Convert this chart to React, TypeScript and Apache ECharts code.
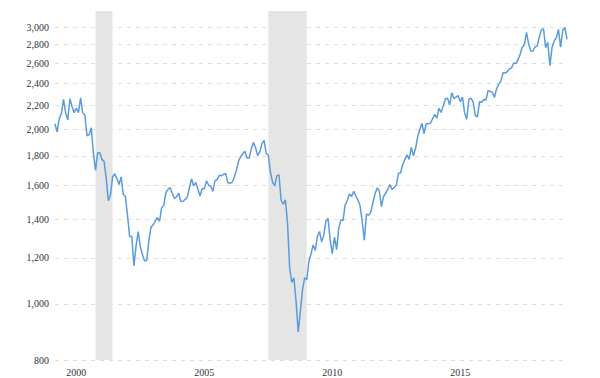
import React, { useEffect, useRef } from "react";
import * as echarts from "echarts";

// Monthly series starts at Aug 1999 (month-end values, inflation adjusted)
const startYear = 1999;
const startMonth = 8;

const realPrice: number[] = [
  // 1999 Aug-Dec
  2045, 1980, 2089, 2129, 2252,
  // 2000
  2131, 2076, 2258, 2188, 2137, 2177, 2136, 2266, 2134, 2119, 1949, 1958,
  // 2001
  2013, 1820, 1699, 1822, 1823, 1775, 1761, 1648, 1506, 1539, 1657, 1676,
  // 2002
  1646, 1606, 1656, 1545, 1531, 1420, 1306, 1308, 1162, 1260, 1332, 1255,
  // 2003
  1215, 1185, 1188, 1287, 1355, 1369, 1389, 1409, 1387, 1465, 1480, 1557,
  // 2004
  1576, 1586, 1550, 1520, 1529, 1552, 1501, 1503, 1514, 1527, 1586, 1643,
  // 2005
  1598, 1619, 1576, 1534, 1581, 1580, 1630, 1603, 1595, 1563, 1631, 1637,
  // 2006
  1666, 1663, 1672, 1678, 1618, 1615, 1619, 1650, 1699, 1762, 1793, 1813,
  // 2007
  1833, 1784, 1785, 1850, 1899, 1861, 1802, 1829, 1889, 1914, 1818, 1804,
  // 2008
  1685, 1622, 1598, 1664, 1668, 1509, 1486, 1511, 1375, 1154, 1089, 1109,
  // 2009
  1009, 894, 968, 1056, 1109, 1100, 1183, 1220, 1263, 1236, 1307, 1333,
  // 2010
  1279, 1315, 1387, 1404, 1288, 1220, 1304, 1240, 1348, 1396, 1392, 1480,
  // 2011
  1507, 1547, 1531, 1564, 1536, 1510, 1476, 1388, 1287, 1428, 1422, 1438,
  // 2012
  1494, 1547, 1584, 1567, 1471, 1531, 1553, 1575, 1606, 1575, 1587, 1603,
  // 2013
  1678, 1683, 1739, 1773, 1807, 1775, 1862, 1801, 1853, 1941, 1999, 2047,
  // 2014
  1966, 2043, 2044, 2050, 2086, 2122, 2090, 2173, 2138, 2193, 2258, 2262,
  // 2015
  2202, 2313, 2260, 2274, 2286, 2231, 2274, 2135, 2082, 2256, 2262, 2230,
  // 2016
  2113, 2102, 2232, 2227, 2252, 2247, 2331, 2326, 2317, 2270, 2350, 2393,
  // 2017
  2422, 2503, 2500, 2516, 2543, 2552, 2603, 2597, 2634, 2693, 2769, 2798,
  // 2018
  2939, 2812, 2730, 2727, 2774, 2783, 2883, 2969, 2979, 2767, 2826, 2575,
  // 2019 Jan-Aug
  2772, 2842, 2877, 2975, 2772, 2964, 2997, 2860,
];

const yTicks = [800, 1000, 1200, 1400, 1600, 1800, 2000, 2200, 2400, 2600, 2800, 3000];
const yMin = 800;
const yMax = 3200;
const labelYears = [2000, 2005, 2010, 2015];
const labelMonth = "06";
const recessions: [string, string][] = [
  ["2001-03", "2001-11"],
  ["2007-12", "2009-06"],
];

const months: string[] = realPrice.map((_, i) => {
  const m = startMonth - 1 + i;
  const y = startYear + Math.floor(m / 12);
  const mm = (m % 12) + 1;
  return `${y}-${String(mm).padStart(2, "0")}`;
});

const FONT = "Liberation Serif";

export default function App() {
  const ref = useRef<HTMLDivElement>(null);

  useEffect(() => {
    if (!ref.current) return;
    const chart = echarts.init(ref.current, undefined, { renderer: "svg" });
    chart.setOption({
      animation: false,
      textStyle: { fontFamily: FONT },
      grid: { left: 55, right: 33, top: 11, bottom: 18, containLabel: false },
      xAxis: {
        type: "category",
        data: months,
        boundaryGap: false,
        axisLine: { show: false },
        axisTick: { show: false },
        splitLine: { show: false },
        axisLabel: {
          interval: (_idx: number, val: string) =>
            val.endsWith("-" + labelMonth) && labelYears.includes(Number(val.slice(0, 4))),
          formatter: (val: string) => val.slice(0, 4),
          color: "#333",
          fontFamily: FONT,
          fontSize: 10,
          margin: 7,
        },
      },
      yAxis: {
        type: "log",
        logBase: 10,
        min: yMin,
        max: yMax,
        axisLine: { show: false },
        axisTick: { show: false, customValues: yTicks },
        axisLabel: {
          customValues: yTicks,
          formatter: (v: number) => Math.round(v).toLocaleString("en-US"),
          color: "#333",
          fontFamily: FONT,
          fontSize: 10,
          margin: 6,
        },
        splitLine: {
          show: true,
          lineStyle: { type: [4, 5], color: "#dedede", width: 1 },
        },
      },
      series: [
        {
          type: "line",
          data: realPrice,
          showSymbol: false,
          symbol: "none",
          lineStyle: { color: "#5a9bdc", width: 1.5 },
          markArea: {
            silent: true,
            itemStyle: { color: "#e5e5e5" },
            data: recessions.map(([a, b]) => [{ xAxis: a }, { xAxis: b }]),
          },
        },
      ],
    });
    return () => chart.dispose();
  }, []);

  return (
    <div
      ref={ref}
      style={{ position: "fixed", left: 0, top: 0, width: 600, height: 378, background: "#fff" }}
    />
  );
}
